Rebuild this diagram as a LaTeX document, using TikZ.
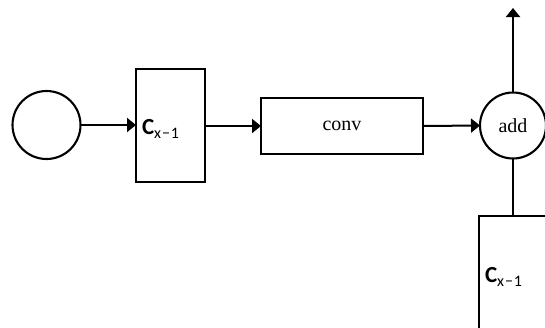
\documentclass[tikz,border=0pt]{standalone}
\usepackage{fontspec}
\setmainfont{Liberation Serif}
\newfontfamily\labelfont{Carlito}
\usetikzlibrary{arrows.meta}
\newcommand{\cxlabel}{{\fontsize{23}{25}\selectfont\bfseries C}\raisebox{-4.5pt}{\fontsize{16}{18}\selectfont\addfontfeature{LetterSpace=6}x\textminus1}}
\begin{document}
\begin{tikzpicture}[x=1pt,y=-1pt,
  every node/.style={inner sep=0pt, outer sep=0pt},
  block/.style={draw, line width=2.4pt, rectangle},
  ring/.style={draw, line width=2.1pt, circle},
  flow/.style={line width=2pt, -{Triangle[length=9pt,width=14pt]}},
  link/.style={line width=2pt},
  cname/.style={font=\labelfont, anchor=base west},
  optext/.style={font=\fontsize{20}{22}\selectfont}
]
\useasboundingbox (0,0) rectangle (545,327);
\clip (0,0) rectangle (545,327);

% nodes
\node[ring, minimum size=68pt] (in) at (46.5,125) {};
\node[block, minimum width=69pt, minimum height=113pt] (c1) at (170.5,125.5) {};
\node[block, minimum width=162pt, minimum height=56pt, optext] (conv) at (342,126) {conv};
\node[ring, minimum size=66pt, optext] (add) at (513,125.5) {add};
\node[block, minimum width=150pt, minimum height=170pt, anchor=north west] (c2) at (479,216) {};

% block labels
\node[cname] (c1lab) at (142,134) {\cxlabel};
\node[cname] (c2lab) at (485,282) {\cxlabel};

\coordinate (out) at (513,8);

% connectors
\draw[flow] (in.east) -- (c1.west |- in.east);
\draw[flow] (c1.east |- conv.west) -- (conv.west);
\draw[flow] (conv.east) -- (add.west);
\draw[flow] (add.north) -- (out);
\draw[link] (add.south) -- (add.south |- c2.north);
\end{tikzpicture}
\end{document}
